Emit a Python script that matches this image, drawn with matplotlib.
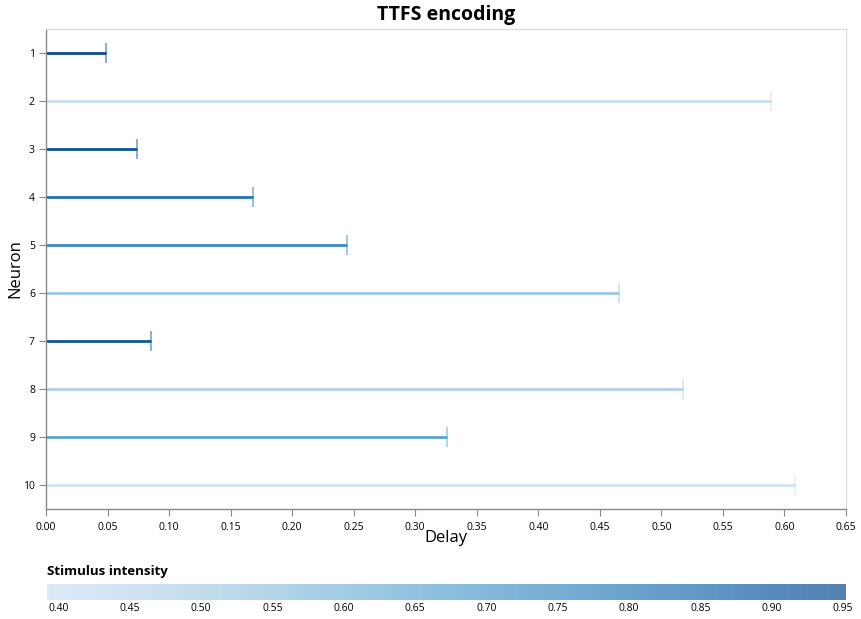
import numpy as np
import matplotlib
matplotlib.use("Agg")
import matplotlib.pyplot as plt
from matplotlib.colors import LinearSegmentedColormap, Normalize

plt.rcParams["font.family"] = ["Open Sans", "DejaVu Sans"]

# data
neurons = [1, 2, 3, 4, 5, 6, 7, 8, 9, 10]
delays = [0.0484, 0.589, 0.0736, 0.1682, 0.2449, 0.4655, 0.0855, 0.5174, 0.326, 0.6083]
intensity = [0.952, 0.411, 0.926, 0.832, 0.755, 0.535, 0.915, 0.483, 0.674, 0.392]
cbar_ticks = [0.40, 0.45, 0.50, 0.55, 0.60, 0.65, 0.70, 0.75, 0.80, 0.85, 0.90, 0.95]
x_ticks = [0.00, 0.05, 0.10, 0.15, 0.20, 0.25, 0.30, 0.35, 0.40, 0.45, 0.50, 0.55, 0.60, 0.65]

# vega "blues" scheme
blues_hex = ["#cfe1f2", "#bed8ec", "#a8cee5", "#8fc1de", "#74b2d7", "#5ba3cf",
             "#4592c6", "#3181bd", "#206fb2", "#125ca4", "#0a4a90"]
cmap = LinearSegmentedColormap.from_list("vega_blues", blues_hex)
norm = Normalize(vmin=min(intensity), vmax=max(intensity))

W, H = 862, 619
fig = plt.figure(figsize=(W / 100, H / 100), dpi=100)
ax = fig.add_axes([46 / W, 1 - 509 / H, 800 / W, 480 / H])

for n, d, s in zip(neurons, delays, intensity):
    c = cmap(norm(s))
    ax.plot([0, d], [n, n], color=c, lw=2, solid_capstyle="butt", zorder=2)
    ax.plot([d], [n], marker="|", markersize=14, markeredgewidth=1.3,
            color=c, alpha=0.5, zorder=3)

ax.set_xlim(0, 0.65)
ax.set_ylim(10.5, 0.5)
ax.set_xticks(x_ticks)
ax.set_xticklabels([f"{t:.2f}" for t in x_ticks])
ax.set_yticks(neurons)
ax.set_yticklabels([str(n) for n in neurons])
ax.tick_params(axis="both", labelsize=7.5, length=5, color="#888888", width=0.8, pad=3)
ax.tick_params(axis="x", pad=4)

for side in ["top", "right"]:
    ax.spines[side].set_color("#dddddd")
    ax.spines[side].set_linewidth(1)
for side in ["left", "bottom"]:
    ax.spines[side].set_color("#888888")
    ax.spines[side].set_linewidth(1)

fig.text(446 / W, 1 - 538 / H, "Delay", fontsize=12, ha="center", va="center")
fig.text(15 / W, 1 - 269 / H, "Neuron", fontsize=12, rotation=90, ha="center", va="center")
fig.text(446 / W, 1 - 15 / H, "TTFS encoding", fontsize=14, fontweight="bold",
         ha="center", va="center")

# color legend
cax = fig.add_axes([47 / W, 1 - 600 / H, 799 / W, 16 / H])
sm = plt.cm.ScalarMappable(norm=norm, cmap=cmap)
cb = fig.colorbar(sm, cax=cax, orientation="horizontal", alpha=0.7)
cb.outline.set_visible(False)
cb.set_ticks(cbar_ticks)
cb.set_ticklabels([f"{t:.2f}" for t in cbar_ticks])
cax.tick_params(labelsize=7.5, length=0, pad=2)
fig.text(47 / W, 1 - 571 / H, "Stimulus intensity", fontsize=9.5, fontweight="bold",
         ha="left", va="center")

fig.savefig("out.png", dpi=100)
